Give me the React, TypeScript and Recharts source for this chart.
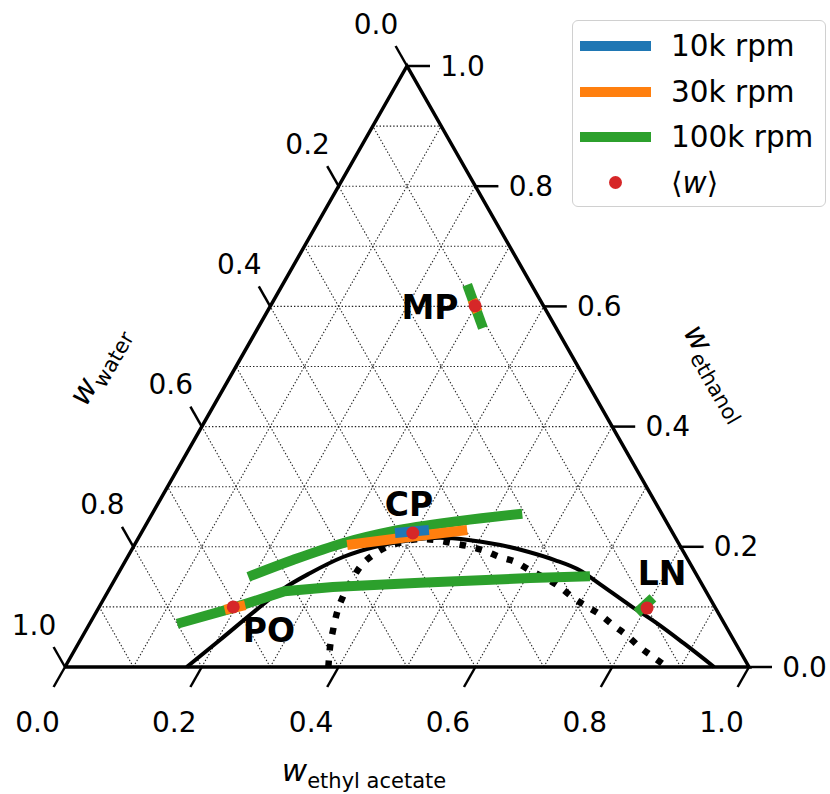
import React from "react";
import { ComposedChart, Line, Scatter, XAxis, YAxis } from "recharts";

// every point is [w_ethyl acetate, w_ethanol]; w_water = 1 - both
type Pt = [number, number];

const TICKS = [0, 0.2, 0.4, 0.6, 0.8, 1.0];
const GRID_STEPS = [0.1, 0.2, 0.3, 0.4, 0.5, 0.6, 0.7, 0.8, 0.9];

const BINODAL: Pt[] = [
  [0.178, 0], [0.204, 0.045], [0.231, 0.093], [0.254, 0.13], [0.28, 0.156],
  [0.315, 0.183], [0.356, 0.201], [0.399, 0.211], [0.441, 0.215], [0.487, 0.211],
  [0.535, 0.203], [0.584, 0.191], [0.627, 0.178], [0.672, 0.161], [0.713, 0.138],
  [0.774, 0.103], [0.825, 0.075], [0.884, 0.04], [0.949, 0],
];

const SPINODAL: Pt[] = [
  [0.385, 0], [0.373, 0.028], [0.361, 0.062], [0.352, 0.092], [0.348, 0.116],
  [0.347, 0.143], [0.348, 0.166], [0.357, 0.186], [0.371, 0.2], [0.39, 0.208],
  [0.413, 0.213], [0.438, 0.211], [0.464, 0.206], [0.489, 0.201], [0.518, 0.193],
  [0.544, 0.183], [0.571, 0.175], [0.599, 0.161], [0.628, 0.148], [0.657, 0.133],
  [0.684, 0.116], [0.712, 0.101], [0.739, 0.087], [0.766, 0.07], [0.796, 0.052],
  [0.824, 0.033], [0.851, 0.017], [0.88, 0],
];

const RPM10_CP: Pt[] = [[0.371, 0.223], [0.418, 0.228]];

const RPM30_CP: Pt[] = [[0.311, 0.203], [0.392, 0.216], [0.474, 0.228]];
const RPM30_PO: Pt[] = [[0.186, 0.095], [0.212, 0.103]];
const RPM30_MP: Pt[] = [[0.29, 0.611], [0.308, 0.591]];

const RPM100_CP: Pt[] = [[0.193, 0.15], [0.244, 0.178], [0.303, 0.206], [0.366, 0.226], [0.456, 0.243], [0.541, 0.255]];
const RPM100_PO: Pt[] = [[0.128, 0.072], [0.196, 0.098], [0.258, 0.126], [0.325, 0.133], [0.449, 0.14], [0.606, 0.148], [0.692, 0.151]];
const RPM100_MP: Pt[] = [[0.27, 0.636], [0.329, 0.564]];
const RPM100_LN: Pt[] = [[0.791, 0.09], [0.802, 0.115]];

const MEAN_W: Pt[] = [[0.299, 0.601], [0.397, 0.223], [0.196, 0.1], [0.802, 0.098]];

const REGION_NAMES = ["MP", "CP", "PO", "LN"];
const REGION_POS: Pt[] = [[0.234, 0.599], [0.368, 0.27], [0.268, 0.06], [0.795, 0.156]];

const LEGEND = [
  { label: "10k rpm", color: "#1f77b4", kind: "line" },
  { label: "30k rpm", color: "#ff7f0e", kind: "line" },
  { label: "100k rpm", color: "#2ca02c", kind: "line" },
  { label: "w", color: "#d62728", kind: "dot" },
];

const FONT = "DejaVu Sans";
const BLUE = "#1f77b4";
const ORANGE = "#ff7f0e";
const GREEN = "#2ca02c";
const RED = "#d62728";

const toXY = ([a, e]: Pt) => ({ x: a + e / 2, y: e });

const gridSegments: Pt[][] = GRID_STEPS.flatMap((g) => [
  [[0, g], [1 - g, g]] as Pt[],
  [[g, 0], [g, 1 - g]] as Pt[],
  [[1 - g, 0], [0, 1 - g]] as Pt[],
]);

const TRIANGLE: Pt[] = [[0, 0], [1, 0], [0, 1], [0, 0]];

function path(key: string, pts: Pt[], stroke: string, width: number, extra: any = {}) {
  return (
    <Line
      key={key}
      data={pts.map(toXY)}
      dataKey="y"
      type="linear"
      stroke={stroke}
      strokeWidth={width}
      strokeLinecap="butt"
      dot={false}
      activeDot={false}
      legendType="none"
      isAnimationActive={false}
      {...extra}
    />
  );
}

const tickShape = (dx: number, dy: number, lx: number, ly: number) => (p: any) => (
  <g>
    <line x1={p.cx} y1={p.cy} x2={p.cx + dx} y2={p.cy + dy} stroke="#000" strokeWidth={2.5} />
    <text
      x={p.cx + lx}
      y={p.cy + ly}
      textAnchor="middle"
      dominantBaseline="central"
      fontFamily={FONT}
      fontSize={28}
      fill="#000"
    >
      {p.payload?.label ?? p.label}
    </text>
  </g>
);

const titleShape = (sub: string, rot: number, dx: number, dy: number) => (p: any) => (
  <g transform={`translate(${p.cx + dx},${p.cy + dy}) rotate(${rot})`}>
    <text x={0} y={6} textAnchor="middle" fontFamily={FONT} fill="#000">
      <tspan fontStyle="italic" fontSize={31}>w</tspan>
      <tspan fontSize={21} dy={7}>{sub}</tspan>
    </text>
  </g>
);

const regionShape = (p: any) => (
  <text
    x={p.cx}
    y={p.cy}
    textAnchor="middle"
    dominantBaseline="central"
    fontFamily={FONT}
    fontWeight="bold"
    fontSize={33}
    fill="#000"
  >
    {p.payload?.name ?? p.name}
  </text>
);

const dotShape = (p: any) => <circle cx={p.cx} cy={p.cy} r={6.5} fill={RED} />;

export default function App() {
  const bottomTicks = TICKS.map((t) => ({ ...toXY([t, 0]), label: t.toFixed(1) }));
  const rightTicks = TICKS.map((t) => ({ ...toXY([1 - t, t]), label: t.toFixed(1) }));
  const leftTicks = TICKS.map((t) => ({ ...toXY([0, 1 - t]), label: t.toFixed(1) }));
  const regions = REGION_POS.map((p, i) => ({ ...toXY(p), name: REGION_NAMES[i] }));

  return (
    <div style={{ position: "absolute", left: 0, top: 0, width: 830, height: 794, background: "#fff" }}>
      <ComposedChart width={830} height={794} margin={{ top: 66, right: 81, bottom: 127, left: 65 }}>
        <XAxis type="number" dataKey="x" domain={[0, 1]} hide />
        <YAxis type="number" dataKey="y" domain={[0, 1]} hide />

        {gridSegments.map((s, i) =>
          path(`grid-${i}`, s, "#222", 1.1, { strokeDasharray: "1.4 2" })
        )}
        {path("edges", TRIANGLE, "#000", 3.5, { strokeLinejoin: "miter" })}

        {path("binodal", BINODAL, "#000", 4, { type: "monotone" })}
        {path("spinodal", SPINODAL, "#000", 6.5, { type: "monotone", strokeDasharray: "6.5 10" })}

        {path("g-cp", RPM100_CP, GREEN, 10, { type: "monotone" })}
        {path("g-po", RPM100_PO, GREEN, 10)}
        {path("g-mp", RPM100_MP, GREEN, 10)}
        {path("g-ln", RPM100_LN, GREEN, 10)}
        {path("o-cp", RPM30_CP, ORANGE, 10)}
        {path("o-po", RPM30_PO, ORANGE, 10)}
        {path("o-mp", RPM30_MP, ORANGE, 10)}
        {path("b-cp", RPM10_CP, BLUE, 10)}

        <Scatter data={MEAN_W.map(toXY)} shape={dotShape} isAnimationActive={false} />
        <Scatter data={regions} shape={regionShape} isAnimationActive={false} />

        <Scatter data={bottomTicks} shape={tickShape(-11.4, 20, -27.5, 55)} isAnimationActive={false} />
        <Scatter data={rightTicks} shape={tickShape(23, 0, 55.5, 0)} isAnimationActive={false} />
        <Scatter data={leftTicks} shape={tickShape(-11.4, -20, -31, -42)} isAnimationActive={false} />

        <Scatter data={[toXY([0.5, 0])]} shape={titleShape("ethyl acetate", 0, -43, 108)} isAnimationActive={false} />
        <Scatter data={[toXY([0, 0.5])]} shape={titleShape("water", -60, -134, 1)} isAnimationActive={false} />
        <Scatter data={[toXY([0.5, 0.5])]} shape={titleShape("ethanol", 60, 136, 8)} isAnimationActive={false} />
      </ComposedChart>

      <div
        style={{
          position: "absolute",
          left: 572,
          top: 20,
          width: 252,
          height: 185,
          border: "1.5px solid #d0d0d0",
          borderRadius: 6,
          background: "rgba(255,255,255,0.85)",
          fontFamily: FONT,
          fontSize: 29.5,
          color: "#000",
        }}
      >
        {LEGEND.map((item, i) => (
          <div
            key={item.label}
            style={{ position: "absolute", left: 0, top: 25 + i * 45.5 - 17, height: 34, width: 250 }}
          >
            {item.kind === "line" ? (
              <div style={{ position: "absolute", left: 7, top: 12, width: 71, height: 10, background: item.color }} />
            ) : (
              <div
                style={{ position: "absolute", left: 36, top: 10, width: 13, height: 13, borderRadius: "50%", background: item.color }}
              />
            )}
            <div style={{ position: "absolute", left: 98, top: 0, lineHeight: "34px", whiteSpace: "nowrap" }}>
              {item.kind === "dot" ? (
                <span>
                  {"\u27E8"}
                  <i>{item.label}</i>
                  {"\u27E9"}
                </span>
              ) : (
                item.label
              )}
            </div>
          </div>
        ))}
      </div>
    </div>
  );
}
